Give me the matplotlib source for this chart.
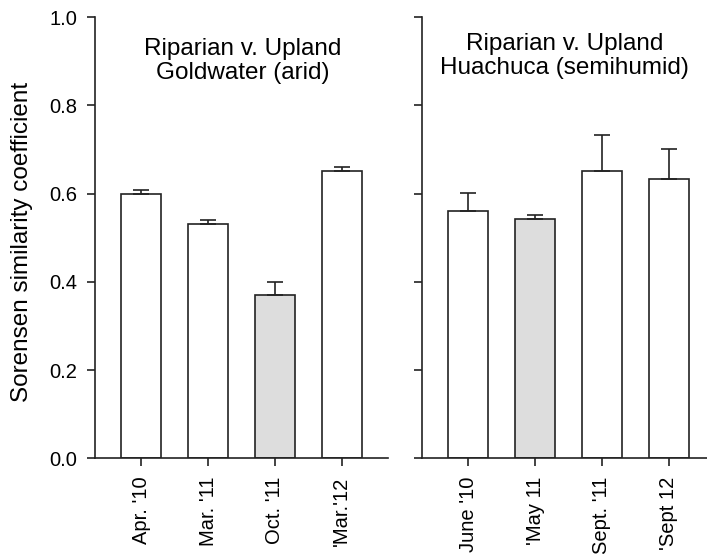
import numpy as np
import matplotlib.pyplot as plt

plt.rcParams['font.family'] = ['Liberation Sans', 'DejaVu Sans']

# left panel: Goldwater (arid)
gold_labels = ["Apr. '10", "Mar. '11", "Oct. '11", "'Mar.'12"]
gold_vals = [0.60, 0.53, 0.37, 0.65]
gold_err = [0.009, 0.009, 0.029, 0.010]
gold_colors = ['white', 'white', '#dddddd', 'white']

# right panel: Huachuca (semihumid)
hua_labels = ["June '10", "'May 11", "Sept. '11", "'Sept 12"]
hua_vals = [0.561, 0.542, 0.652, 0.632]
hua_err = [0.041, 0.010, 0.080, 0.070]
hua_colors = ['white', '#dddddd', 'white', 'white']

fig = plt.figure(figsize=(7.07, 5.54), dpi=100)
ax1 = fig.add_axes([0.1344, 0.1727, 0.4144, 0.7966])
ax2 = fig.add_axes([0.5969, 0.1727, 0.4031, 0.7966])


def draw(ax, labels, vals, err, colors, xmax):
    x = np.arange(len(vals))
    ax.bar(x, vals, width=0.6, color=colors, edgecolor='#222222', linewidth=1.2, zorder=2)
    ax.errorbar(x, vals, yerr=[np.zeros(len(err)), err], fmt='none', ecolor='#222222',
                elinewidth=1.2, capsize=5.5, capthick=1.2, zorder=3)
    ax.set_xlim(-0.69, xmax)
    ax.set_ylim(0, 1.0)
    ax.set_xticks(x)
    ax.set_xticklabels(labels, rotation=90, fontsize=14.5)
    ax.set_yticks([0.0, 0.2, 0.4, 0.6, 0.8, 1.0])
    for s in ['top', 'right']:
        ax.spines[s].set_visible(False)
    for s in ['left', 'bottom']:
        ax.spines[s].set_linewidth(1.2)
        ax.spines[s].set_color('#222222')
    ax.tick_params(length=6, width=1.2, color='#222222', labelsize=14.5, pad=7)


draw(ax1, gold_labels, gold_vals, gold_err, gold_colors, 3.69)
draw(ax2, hua_labels, hua_vals, hua_err, hua_colors, 3.57)

ax1.set_yticklabels(['0.0', '0.2', '0.4', '0.6', '0.8', '1.0'])
ax2.set_yticklabels([])
ax1.set_ylabel('Sorensen similarity coefficient', fontsize=17.5)
ax1.yaxis.set_label_coords(-0.21, 0.49)

ax1.text(0.505, 0.90, 'Riparian v. Upland\nGoldwater (arid)', transform=ax1.transAxes,
         ha='center', va='center', fontsize=17.5, linespacing=1.1)
ax2.text(0.50, 0.912, 'Riparian v. Upland\nHuachuca (semihumid)', transform=ax2.transAxes,
         ha='center', va='center', fontsize=17.5, linespacing=1.1)

fig.savefig('out.png', dpi=100)
